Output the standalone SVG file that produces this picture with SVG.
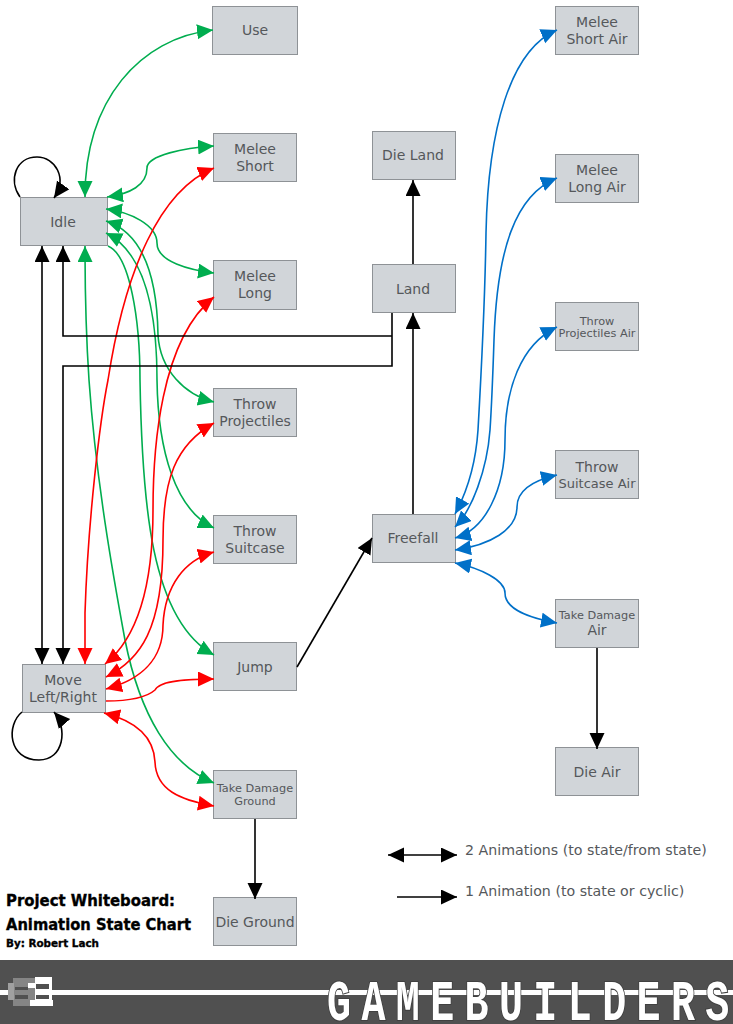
<svg xmlns="http://www.w3.org/2000/svg" width="733" height="1024" viewBox="0 0 733 1024">
<style>
.n{fill:#d1d5d9;stroke:#8e9296;stroke-width:1}
.t{font-family:"DejaVu Sans",Verdana,sans-serif;font-size:14px;fill:#55585b;text-anchor:middle}
.s{font-size:11.3px}
.m{font-size:13px}
.l{font-size:14.2px;text-anchor:start}
.c{fill:none;stroke-width:1.6}
.k{stroke:#000}.g{stroke:#00ad4f}.r{stroke:#fe0000}.b{stroke:#0070c8}
.ti{font-family:"DejaVu Sans",sans-serif;font-weight:bold;fill:#000;stroke:#000;stroke-width:.35}
</style>
<defs>
<marker id="ke" markerUnits="userSpaceOnUse" markerWidth="17" markerHeight="17" refX="16" refY="7.500" orient="auto"><path d="M0,0L16,7.500L0,15z" fill="#000"/></marker>
<marker id="ks" markerUnits="userSpaceOnUse" markerWidth="17" markerHeight="17" refX="16" refY="7.500" orient="auto-start-reverse"><path d="M0,0L16,7.500L0,15z" fill="#000"/></marker>
<marker id="ge" markerUnits="userSpaceOnUse" markerWidth="17" markerHeight="17" refX="16" refY="7.500" orient="auto"><path d="M0,0L16,7.500L0,15z" fill="#00ad4f"/></marker>
<marker id="gs" markerUnits="userSpaceOnUse" markerWidth="17" markerHeight="17" refX="16" refY="7.500" orient="auto-start-reverse"><path d="M0,0L16,7.500L0,15z" fill="#00ad4f"/></marker>
<marker id="re" markerUnits="userSpaceOnUse" markerWidth="17" markerHeight="17" refX="16" refY="7.500" orient="auto"><path d="M0,0L16,7.500L0,15z" fill="#fe0000"/></marker>
<marker id="rs" markerUnits="userSpaceOnUse" markerWidth="17" markerHeight="17" refX="16" refY="7.500" orient="auto-start-reverse"><path d="M0,0L16,7.500L0,15z" fill="#fe0000"/></marker>
<marker id="be" markerUnits="userSpaceOnUse" markerWidth="17" markerHeight="17" refX="16" refY="7.500" orient="auto"><path d="M0,0L16,7.500L0,15z" fill="#0070c8"/></marker>
<marker id="bs" markerUnits="userSpaceOnUse" markerWidth="17" markerHeight="17" refX="16" refY="7.500" orient="auto-start-reverse"><path d="M0,0L16,7.500L0,15z" fill="#0070c8"/></marker>
</defs>
<rect width="733" height="1024" fill="#fff"/>
<g id="nodes">
<g id="use"><rect class="n" x="212.500" y="6.500" width="85" height="48"/><text class="t" x="255" y="35">Use</text></g>
<g id="melee-short"><rect class="n" x="213.500" y="133.500" width="83" height="48"/><text class="t" x="255" y="154">Melee</text><text class="t" x="255" y="171">Short</text></g>
<g id="melee-long"><rect class="n" x="213.500" y="260.500" width="83" height="49"/><text class="t" x="255" y="281">Melee</text><text class="t" x="255" y="298">Long</text></g>
<g id="throw-projectiles"><rect class="n" x="213.500" y="388.500" width="83" height="48"/><text class="t" x="255" y="409">Throw</text><text class="t" x="255" y="426">Projectiles</text></g>
<g id="throw-suitcase"><rect class="n" x="213.500" y="515.500" width="83" height="48"/><text class="t" x="255" y="536">Throw</text><text class="t" x="255" y="553">Suitcase</text></g>
<g id="jump"><rect class="n" x="213.500" y="642.500" width="83" height="48"/><text class="t" x="255" y="672">Jump</text></g>
<g id="take-damage-ground"><rect class="n" x="213.500" y="770.500" width="83" height="48"/><text class="t s" x="255" y="792">Take Damage</text><text class="t s" x="255" y="805">Ground</text></g>
<g id="die-ground"><rect class="n" x="213.500" y="897.500" width="83" height="48"/><text class="t" x="255" y="927">Die Ground</text></g>
<g id="idle"><rect class="n" x="20.500" y="197.500" width="87" height="48"/><text class="t" x="63" y="227">Idle</text></g>
<g id="move"><rect class="n" x="22.500" y="664.500" width="83" height="48"/><text class="t" x="63" y="685">Move</text><text class="t" x="63" y="702">Left/Right</text></g>
<g id="die-land"><rect class="n" x="372.500" y="131.500" width="83" height="48"/><text class="t" x="413" y="160">Die Land</text></g>
<g id="land"><rect class="n" x="372.500" y="264.500" width="83" height="48"/><text class="t" x="413" y="294">Land</text></g>
<g id="freefall"><rect class="n" x="372.500" y="514.500" width="83" height="48"/><text class="t" x="413" y="543">Freefall</text></g>
<g id="melee-short-air"><rect class="n" x="555.500" y="6.500" width="83" height="48"/><text class="t" x="597" y="27">Melee</text><text class="t" x="597" y="44">Short Air</text></g>
<g id="melee-long-air"><rect class="n" x="555.500" y="154.500" width="83" height="48"/><text class="t" x="597" y="175">Melee</text><text class="t" x="597" y="192">Long Air</text></g>
<g id="throw-projectiles-air"><rect class="n" x="555.500" y="302.500" width="83" height="48"/><text class="t s" x="597" y="325">Throw</text><text class="t s" x="597" y="337">Projectiles Air</text></g>
<g id="throw-suitcase-air"><rect class="n" x="555.500" y="450.500" width="83" height="48"/><text class="t" x="597" y="472">Throw</text><text class="t m" x="597" y="488">Suitcase Air</text></g>
<g id="take-damage-air"><rect class="n" x="555.500" y="599.500" width="83" height="48"/><text class="t s" x="597" y="619">Take Damage</text><text class="t" x="597" y="635">Air</text></g>
<g id="die-air"><rect class="n" x="555.500" y="747.500" width="83" height="48"/><text class="t" x="597" y="777">Die Air</text></g>
</g>
<g id="connectors">
<path class="c g" marker-start="url(#gs)" marker-end="url(#ge)" d="M85,197C85,100 140,38 213,30"/>
<path class="c g" marker-start="url(#gs)" marker-end="url(#ge)" d="M107,197C130,194 147,185 147,168C147,155 185,148 214,146"/>
<path class="c g" marker-start="url(#gs)" marker-end="url(#ge)" d="M106,209C130,212 157,225 157,243C157,262 190,270 214,273"/>
<path class="c g" marker-start="url(#gs)" marker-end="url(#ge)" d="M106,221C140,232 157,270 158,335C160,370 185,395 214,402"/>
<path class="c g" marker-start="url(#gs)" marker-end="url(#ge)" d="M106,233C140,250 157,300 157,380C158,450 175,510 214,528"/>
<path class="c g" marker-end="url(#ge)" d="M108,246C130,255 140,320 140,380C142,500 150,620 214,655"/>
<path class="c g" marker-start="url(#gs)" marker-end="url(#ge)" d="M85,246C85,310 87,350 89,380C96,480 113,575 125,640C140,715 170,765 214,783"/>
<path class="c r" marker-start="url(#rs)" marker-end="url(#re)" d="M85,664L85,613C88,520 100,420 108,380C125,270 160,190 214,168"/>
<path class="c r" marker-start="url(#rs)" marker-end="url(#re)" d="M105,664C135,640 153,590 153,510C153,450 160,340 214,297"/>
<path class="c r" marker-start="url(#rs)" marker-end="url(#re)" d="M106,677C140,660 163,630 163,540C163,480 175,445 214,423"/>
<path class="c r" marker-start="url(#rs)" marker-end="url(#re)" d="M106,689C140,680 163,660 163,625C165,585 185,560 214,552"/>
<path class="c r" marker-end="url(#re)" d="M106,701C130,701 147,697 155,690C160,680 190,679 214,679"/>
<path class="c r" marker-start="url(#rs)" marker-end="url(#re)" d="M104,713C140,722 154,740 155,762C156,790 180,800 214,806"/>
<path class="c k" marker-end="url(#ke)" d="M20,197C8,180 16,157 37,157C55,157 68,178 54,198"/>
<path class="c k" marker-end="url(#ke)" d="M22,712C6,725 8,760 39,760C64,760 68,728 54,712"/>
<path class="c k" marker-start="url(#ks)" marker-end="url(#ke)" d="M42,246V664"/>
<path class="c k" marker-end="url(#ke)" d="M392,336H63V246"/>
<path class="c k" marker-end="url(#ke)" d="M392,313V366H63V664"/>
<path class="c k" marker-end="url(#ke)" d="M413,514V313"/>
<path class="c k" marker-end="url(#ke)" d="M413,264V180"/>
<path class="c k" marker-end="url(#ke)" d="M297,667L372,538"/>
<path class="c k" marker-end="url(#ke)" d="M255,819V899"/>
<path class="c k" marker-end="url(#ke)" d="M597,648V749"/>
<path class="c b" marker-start="url(#bs)" marker-end="url(#be)" d="M455,514C468,490 476,460 478,430C482,360 485,300 486,233C488,130 510,50 557,30"/>
<path class="c b" marker-start="url(#bs)" marker-end="url(#be)" d="M455,527C472,510 487,470 490,430C492,400 493,370 494,340C497,250 515,195 557,178"/>
<path class="c b" marker-start="url(#bs)" marker-end="url(#be)" d="M455,538C485,530 505,490 505,440C505,390 520,345 557,327"/>
<path class="c b" marker-start="url(#bs)" marker-end="url(#be)" d="M455,550C490,545 517,530 517,507C517,490 535,480 557,475"/>
<path class="c b" marker-start="url(#bs)" marker-end="url(#be)" d="M455,563C480,568 505,580 505,593C505,610 530,618 557,623"/>
<path class="c k" marker-start="url(#ks)" marker-end="url(#ke)" d="M388,855H457"/>
<path class="c k" marker-end="url(#ke)" d="M397,897H457"/>
</g>
<text class="t l" x="465" y="855">2 Animations (to state/from state)</text>
<text class="t l" x="465" y="896">1 Animation (to state or cyclic)</text>
<text class="ti" x="6" y="906" font-size="15" textLength="169" lengthAdjust="spacingAndGlyphs">Project Whiteboard:</text>
<text class="ti" x="6" y="930" font-size="15" textLength="185" lengthAdjust="spacingAndGlyphs">Animation State Chart</text>
<text class="ti" x="6" y="947" font-size="10.500" textLength="93" lengthAdjust="spacingAndGlyphs">By: Robert Lach</text>
<g id="banner">
<rect y="960" width="733" height="64" fill="#505050"/>
<rect y="990" width="733" height="5" fill="#fff"/>
<rect x="13" y="978" width="23" height="28" fill="#858585"/>
<rect x="8" y="983" width="6" height="17" fill="#a0a0a0"/>
<rect x="15" y="987" width="13" height="3" fill="#505050"/>
<rect x="15" y="995" width="13" height="4" fill="#505050"/>
<rect x="35" y="977" width="17" height="23" fill="#fff"/>
<rect x="28" y="983" width="8" height="5" fill="#fff"/>
<rect x="30" y="1000" width="23" height="6" fill="#fff"/>
<rect x="36" y="984" width="13" height="5" fill="#505050"/>
<rect x="36" y="995" width="13" height="4" fill="#505050"/>
<text transform="translate(327,1020) scale(1,1.45)" x="0" y="0" font-family="Liberation Mono" font-weight="bold" font-size="40" letter-spacing="10.400" fill="#fff" stroke="#404040" stroke-width="1.500" paint-order="stroke">GAMEBUILDER<tspan letter-spacing="0">S</tspan></text>
</g>
</svg>
